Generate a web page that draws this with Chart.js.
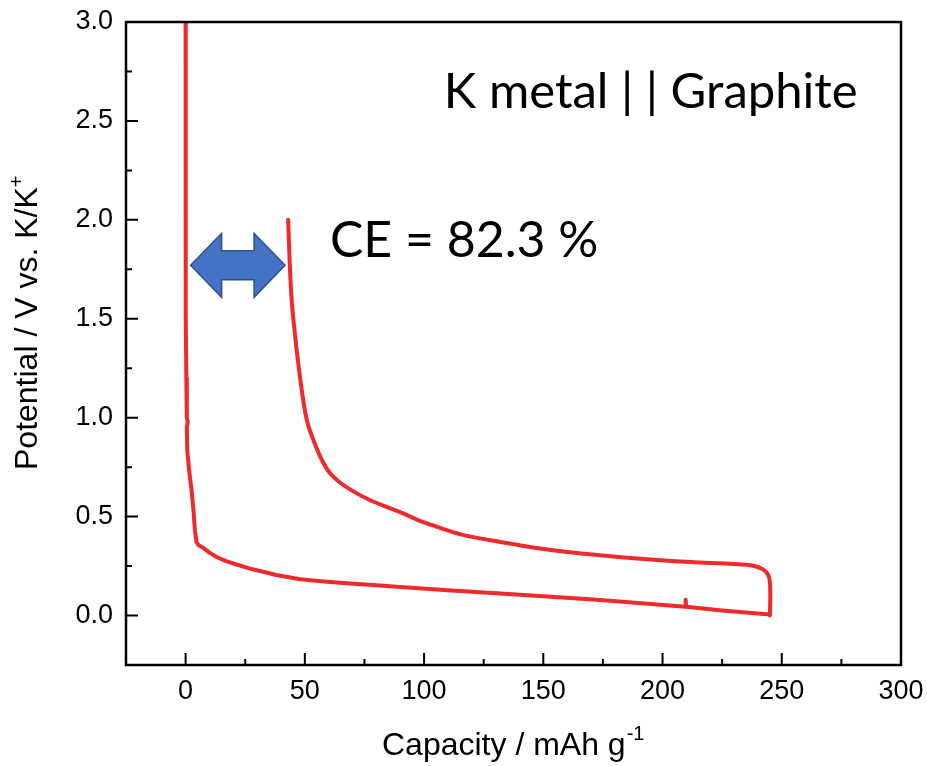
<!DOCTYPE html>
<html>
<head>
<meta charset="utf-8">
<title>K metal || Graphite</title>
<script src="https://cdn.jsdelivr.net/npm/chart.js@4.4.1/dist/chart.umd.min.js"></script>
<style>
  html, body { margin: 0; padding: 0; background: #fff; }
  #wrap { width: 927px; height: 766px; }
</style>
</head>
<body>
<div id="wrap"><canvas id="chart" width="927" height="766"></canvas></div>
<script>
// first discharge (potassiation) - capacity in mAh/g, potential in V
const dischargeCap = [0, 0, 0.1, 0.3, 0.5, 0.9, 0.5, 0.7, 1.5, 2.5, 3.3, 3.9, 4.6, 5.5, 7.4, 10, 13, 17, 20, 27, 33, 38, 48, 58, 69, 80, 90, 110, 132, 150, 171, 190, 209.5, 209.7, 209.9, 225, 245];
const dischargeV   = [3.0, 2.0, 1.5, 1.2, 1.0, 0.98, 0.95, 0.835, 0.73, 0.633, 0.53, 0.43, 0.369, 0.355, 0.342, 0.318, 0.296, 0.275, 0.263, 0.237, 0.22, 0.205, 0.183, 0.172, 0.162, 0.153, 0.144, 0.128, 0.111, 0.097, 0.081, 0.063, 0.045, 0.08, 0.044, 0.026, 0.005];

// first charge (depotassiation)
const chargeCap = [245, 245.2, 245, 244.3, 242.3, 238, 230, 212, 195, 178, 160, 145, 132, 119, 112, 105, 98, 90, 84, 77, 70, 65, 60.5, 57, 53.5, 51, 49.3, 46.6, 44.5, 43.6, 43];
const chargeV   = [0.0, 0.1, 0.17, 0.205, 0.232, 0.252, 0.26, 0.27, 0.283, 0.3, 0.321, 0.345, 0.372, 0.4, 0.422, 0.45, 0.48, 0.523, 0.55, 0.585, 0.63, 0.67, 0.72, 0.79, 0.89, 0.98, 1.09, 1.34, 1.59, 1.8, 2.0];

const xTicks = [0, 50, 100, 150, 200, 250, 300];
const yTicks = [0.0, 0.5, 1.0, 1.5, 2.0, 2.5, 3.0];
const xMinor = [-25, 25, 75, 125, 175, 225, 275];
const yMinor = [-0.25, 0.25, 0.75, 1.25, 1.75, 2.25, 2.75];

// double arrow between the two curves (capacity from/to, at potential)
const arrowFrom = 2.1, arrowTo = 41.7, arrowAt = 1.77;

const cellLabel = 'K metal | | Graphite';
const ceLabel = 'CE = 82.3 %';

const toPoints = (xs, ys) => xs.map((x, i) => ({ x: x, y: ys[i] }));
const red = '#ee2a2a';
const sans = 'Liberation Sans, Arial, sans-serif';
const tickFont = { family: sans, size: 27 };

// frame with inward major/minor ticks, axis titles, arrow and text
const decorations = {
  id: 'decorations',
  afterDatasetsDraw(chart) {
    const { ctx, chartArea: a, scales: { x, y } } = chart;
    ctx.save();
    ctx.strokeStyle = '#000';
    ctx.lineWidth = 2.5;
    ctx.strokeRect(a.left, a.top, a.right - a.left, a.bottom - a.top);

    ctx.lineWidth = 2;
    ctx.beginPath();
    xTicks.forEach(v => { const p = x.getPixelForValue(v); ctx.moveTo(p, a.bottom); ctx.lineTo(p, a.bottom - 12); });
    xMinor.forEach(v => { const p = x.getPixelForValue(v); ctx.moveTo(p, a.bottom); ctx.lineTo(p, a.bottom - 6); });
    yTicks.forEach(v => { const p = y.getPixelForValue(v); ctx.moveTo(a.left, p); ctx.lineTo(a.left + 12, p); });
    yMinor.forEach(v => { const p = y.getPixelForValue(v); ctx.moveTo(a.left, p); ctx.lineTo(a.left + 6, p); });
    ctx.stroke();

    // axis titles
    ctx.fillStyle = '#000';
    ctx.textBaseline = 'alphabetic';
    ctx.textAlign = 'left';
    ctx.font = '32px ' + sans;
    const xt = 'Capacity / mAh g';
    const xw = ctx.measureText(xt).width;
    ctx.fillText(xt, 382, 755);
    ctx.font = '20px ' + sans;
    ctx.fillText('-1', 382 + xw + 1, 740);

    ctx.save();
    ctx.translate(37, 470);
    ctx.rotate(-Math.PI / 2);
    ctx.font = '32px ' + sans;
    const yt = 'Potential / V vs. K/K';
    const yw = ctx.measureText(yt).width;
    ctx.fillText(yt, 0, 0);
    ctx.font = '20px ' + sans;
    ctx.fillText('+', yw, -14);
    ctx.restore();

    // double-headed arrow
    const lx = x.getPixelForValue(arrowFrom), rx = x.getPixelForValue(arrowTo);
    const cy = y.getPixelForValue(arrowAt);
    const head = 31, hh = 32, sh = 14.5;
    ctx.beginPath();
    ctx.moveTo(lx, cy);
    ctx.lineTo(lx + head, cy - hh);
    ctx.lineTo(lx + head, cy - sh);
    ctx.lineTo(rx - head, cy - sh);
    ctx.lineTo(rx - head, cy - hh);
    ctx.lineTo(rx, cy);
    ctx.lineTo(rx - head, cy + hh);
    ctx.lineTo(rx - head, cy + sh);
    ctx.lineTo(lx + head, cy + sh);
    ctx.lineTo(lx + head, cy + hh);
    ctx.closePath();
    ctx.fillStyle = '#4472c4';
    ctx.fill();
    ctx.strokeStyle = '#2f528f';
    ctx.lineWidth = 1.5;
    ctx.stroke();

    // annotations
    ctx.fillStyle = '#000';
    ctx.font = '49px Lato, sans-serif';
    ctx.fillText(cellLabel, x.getPixelForValue(108.3), y.getPixelForValue(2.565));
    ctx.font = '50px Lato, sans-serif';
    ctx.fillText(ceLabel, x.getPixelForValue(60.5), y.getPixelForValue(1.81));
    ctx.restore();
  }
};

new Chart(document.getElementById('chart'), {
  type: 'line',
  data: {
    datasets: [
      { label: 'discharge', data: toPoints(dischargeCap, dischargeV) },
      { label: 'charge', data: toPoints(chargeCap, chargeV), tension: 0.3 }
    ]
  },
  options: {
    responsive: false,
    animation: false,
    layout: { padding: { top: 22, right: 26, left: 0, bottom: 0 } },
    elements: {
      line: { borderColor: red, borderWidth: 4, tension: 0, fill: false, borderCapStyle: 'round', borderJoinStyle: 'round' },
      point: { radius: 0 }
    },
    plugins: { legend: { display: false }, tooltip: { enabled: false } },
    scales: {
      x: {
        type: 'linear',
        min: -25, max: 300,
        grid: { display: false, drawTicks: false },
        border: { display: false },
        afterBuildTicks: s => { s.ticks = xTicks.map(v => ({ value: v })); },
        afterFit: s => { s.height = 101; s.paddingLeft = 0; s.paddingRight = 0; },
        ticks: { font: tickFont, color: '#000', padding: 10, maxRotation: 0 }
      },
      y: {
        type: 'linear',
        min: -0.25, max: 3.0,
        grid: { display: false, drawTicks: false },
        border: { display: false },
        afterBuildTicks: s => { s.ticks = yTicks.map(v => ({ value: v })); },
        afterFit: s => { s.width = 126; s.paddingTop = 0; s.paddingBottom = 0; },
        ticks: { font: tickFont, color: '#000', padding: 13, callback: v => Number(v).toFixed(1) }
      }
    }
  },
  plugins: [decorations]
});
</script>
</body>
</html>
